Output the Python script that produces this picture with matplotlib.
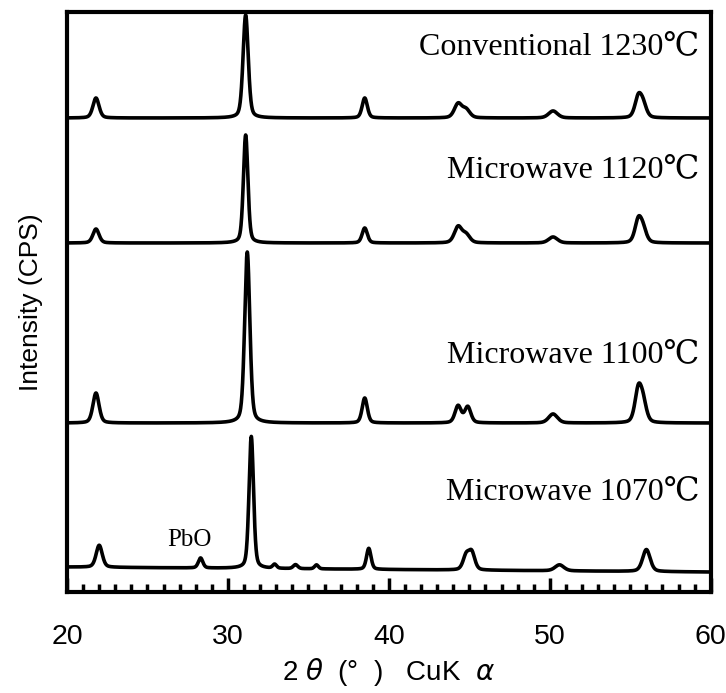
import numpy as np
import matplotlib
matplotlib.use("Agg")
import matplotlib.pyplot as plt
from matplotlib.ticker import MultipleLocator

# peak lists: position (deg), height, FWHM (deg)
conv_pos = [21.8, 31.1, 38.5, 44.3, 44.8, 50.2, 55.5, 55.8]
conv_h = [20, 103, 20, 14, 8, 7, 20, 12]
conv_w = [0.45, 0.38, 0.38, 0.55, 0.55, 0.65, 0.50, 0.50]
conv_base = [474, 474]

mw1120_pos = [21.8, 31.1, 38.5, 44.3, 44.8, 50.2, 55.5, 55.8]
mw1120_h = [14, 108, 15, 16, 8, 6, 22, 12]
mw1120_w = [0.45, 0.33, 0.38, 0.55, 0.55, 0.65, 0.50, 0.50]
mw1120_base = [349, 349]

mw1100_pos = [21.8, 31.2, 38.5, 44.3, 44.9, 50.2, 55.5, 55.8]
mw1100_h = [30, 171, 25, 17, 16, 9, 32, 18]
mw1100_w = [0.45, 0.38, 0.38, 0.45, 0.45, 0.65, 0.50, 0.50]
mw1100_base = [169, 169]

mw1070_pos = [22.0, 28.3, 31.45, 32.9, 34.2, 35.5, 38.75, 44.8, 45.15, 50.6, 56.0]
mw1070_h = [22, 10, 132, 4, 4, 4, 21, 14, 17, 6, 22]
mw1070_w = [0.45, 0.33, 0.33, 0.28, 0.33, 0.28, 0.33, 0.45, 0.45, 0.65, 0.55]
mw1070_base = [25, 20]

labels = ["Conventional 1230\u2103", "Microwave 1120\u2103",
          "Microwave 1100\u2103", "Microwave 1070\u2103"]
label_y = [545, 422, 237, 100]

x = np.linspace(20, 60, 4001)


def pattern(pos, h, w, base):
    y = base[0] + (base[1] - base[0]) * (x - 20) / 40.0
    for p, a, fw in zip(pos, h, w):
        g = np.exp(-4 * np.log(2) * ((x - p) / fw) ** 2)
        lo = 1.0 / (1 + 4 * ((x - p) / fw) ** 2)
        y = y + a * (0.65 * g + 0.35 * lo)
    return y


fig = plt.figure(figsize=(7.26, 6.93), dpi=100)
ax = fig.add_axes([0.0923, 0.1457, 0.8867, 0.837])

series = [(conv_pos, conv_h, conv_w, conv_base),
          (mw1120_pos, mw1120_h, mw1120_w, mw1120_base),
          (mw1100_pos, mw1100_h, mw1100_w, mw1100_base),
          (mw1070_pos, mw1070_h, mw1070_w, mw1070_base)]
for pos, h, w, base in series:
    ax.plot(x, pattern(pos, h, w, base), color="black", lw=2.6)

serif = ["Liberation Serif", "DejaVu Serif"]
for lab, ly in zip(labels, label_y):
    ax.text(59.3, ly, lab, ha="right", va="center", fontsize=23,
            family=serif)
ax.text(27.6, 52, "PbO", ha="center", va="center", fontsize=18,
        family=serif)

ax.set_xlim(20, 60)
ax.set_ylim(0, 580)
ax.set_yticks([])
ax.xaxis.set_major_locator(MultipleLocator(10))
ax.xaxis.set_minor_locator(MultipleLocator(1))
ax.tick_params(axis="x", which="major", direction="in", length=10, width=2.5,
               pad=23, labelsize=20.5)
ax.tick_params(axis="x", which="minor", direction="in", length=6, width=2.5)
for lbl in ax.get_xticklabels():
    lbl.set_family("Liberation Sans")
for s in ax.spines.values():
    s.set_linewidth(3)

ax.set_xlabel("2 $\\theta$  (\u00b0  )   CuK  $\\alpha$", fontsize=20,
              family="Liberation Sans", labelpad=4)
ax.set_ylabel("Intensity (CPS)", fontsize=19, family="Liberation Sans",
              labelpad=17)

fig.savefig("out.png", dpi=100)
